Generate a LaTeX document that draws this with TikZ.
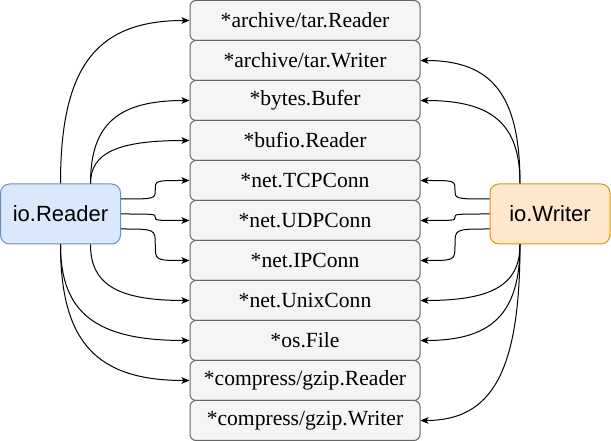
\documentclass[tikz,border=0pt]{standalone}
\usepackage{fontspec}
\setmainfont{Liberation Serif}
\setsansfont{Liberation Sans}
\usetikzlibrary{calc}
\usetikzlibrary{arrows.meta}
\definecolor{implfill}{HTML}{F5F5F5}
\definecolor{impldraw}{HTML}{666666}
\definecolor{rdfill}{HTML}{DAE8FC}
\definecolor{rddraw}{HTML}{6C8EBF}
\definecolor{wrfill}{HTML}{FFE6CC}
\definecolor{wrdraw}{HTML}{D79B00}

\begin{document}
\begin{tikzpicture}[x=0.75pt, y=-0.75pt,
  impl/.style={draw=impldraw, fill=implfill, rounded corners=4.5pt, line width=0.75pt, minimum width=172.5pt, minimum height=30pt, inner sep=0pt, font=\fontsize{16.2}{19}\selectfont},
  iface/.style={rounded corners=6.75pt, line width=0.75pt, minimum width=90pt, minimum height=45pt, inner sep=0pt, font=\sffamily\fontsize{16.5}{19}\selectfont},
  link/.style={-{Stealth[length=6pt,width=5pt,inset=1.5pt]}, line width=0.75pt},
  hv/.style={to path={let \p1=(\tikztostart), \p2=(\tikztotarget) in
    .. controls (\x1,{\y1+0.72*(\y2-\y1)}) and ({\x2+0.72*(\x1-\x2)},\y2) .. (\tikztotarget)}},
  sc/.style={to path={let \p1=(\tikztostart), \p2=(\tikztotarget) in
    .. controls (\x1/2+\x2/2,\y1) .. (\x1/2+\x2/2,\y1/2+\y2/2)
    .. controls (\x1/2+\x2/2,\y2) .. (\tikztotarget)}}]
\useasboundingbox (0,0) rectangle (611,441);
% implementations
\node[impl] (N1) at (305,20.5) {*archive/tar.Reader};
\node[impl] (N2) at (305,60.5) {*archive/tar.Writer};
\node[impl] (N3) at (305,100.5) {*bytes.Bufer};
\node[impl] (N4) at (305,140.5) {*bufio.Reader};
\node[impl] (N5) at (305,180.5) {*net.TCPConn};
\node[impl] (N6) at (305,220.5) {*net.UDPConn};
\node[impl] (N7) at (305,260.5) {*net.IPConn};
\node[impl] (N8) at (305,300.5) {*net.UnixConn};
\node[impl] (N9) at (305,340.5) {*os.File};
\node[impl] (N10) at (305,380.5) {*compress/gzip.Reader};
\node[impl] (N11) at (305,420.5) {*compress/gzip.Writer};
% interfaces
\node[iface, draw=rddraw, fill=rdfill] (R) at (60.5,214) {io.Reader};
\node[iface, draw=wrdraw, fill=wrfill] (W) at (550,214) {io.Writer};
% io.Reader
\draw[link] (R.north) to[hv] (N1.west);
\draw[link] ([xshift=22.5pt]R.north) to[hv] (N3.west);
\draw[link] ([xshift=22.5pt]R.north) to[hv] (N4.west);
\draw[link] ([yshift=11.25pt]R.east) to[sc] (N5.west);
\draw[link] (R.east) to[sc] (N6.west);
\draw[link] ([yshift=-11.25pt]R.east) to[sc] (N7.west);
\draw[link] ([xshift=22.5pt]R.south) to[hv] (N8.west);
\draw[link] (R.south) to[hv] (N9.west);
\draw[link] (R.south) to[hv] (N10.west);
% io.Writer
\draw[link] ([xshift=-22.5pt]W.north) to[hv] (N2.east);
\draw[link] ([xshift=-22.5pt]W.north) to[hv] (N3.east);
\draw[link] ([yshift=11.25pt]W.west) to[sc] (N5.east);
\draw[link] (W.west) to[sc] (N6.east);
\draw[link] ([yshift=-11.25pt]W.west) to[sc] (N7.east);
\draw[link] ([xshift=-22.5pt]W.south) to[hv] (N8.east);
\draw[link] ([xshift=-22.5pt]W.south) to[hv] (N9.east);
\draw[link] ([xshift=-22.5pt]W.south) to[hv] (N11.east);
\end{tikzpicture}
\end{document}
